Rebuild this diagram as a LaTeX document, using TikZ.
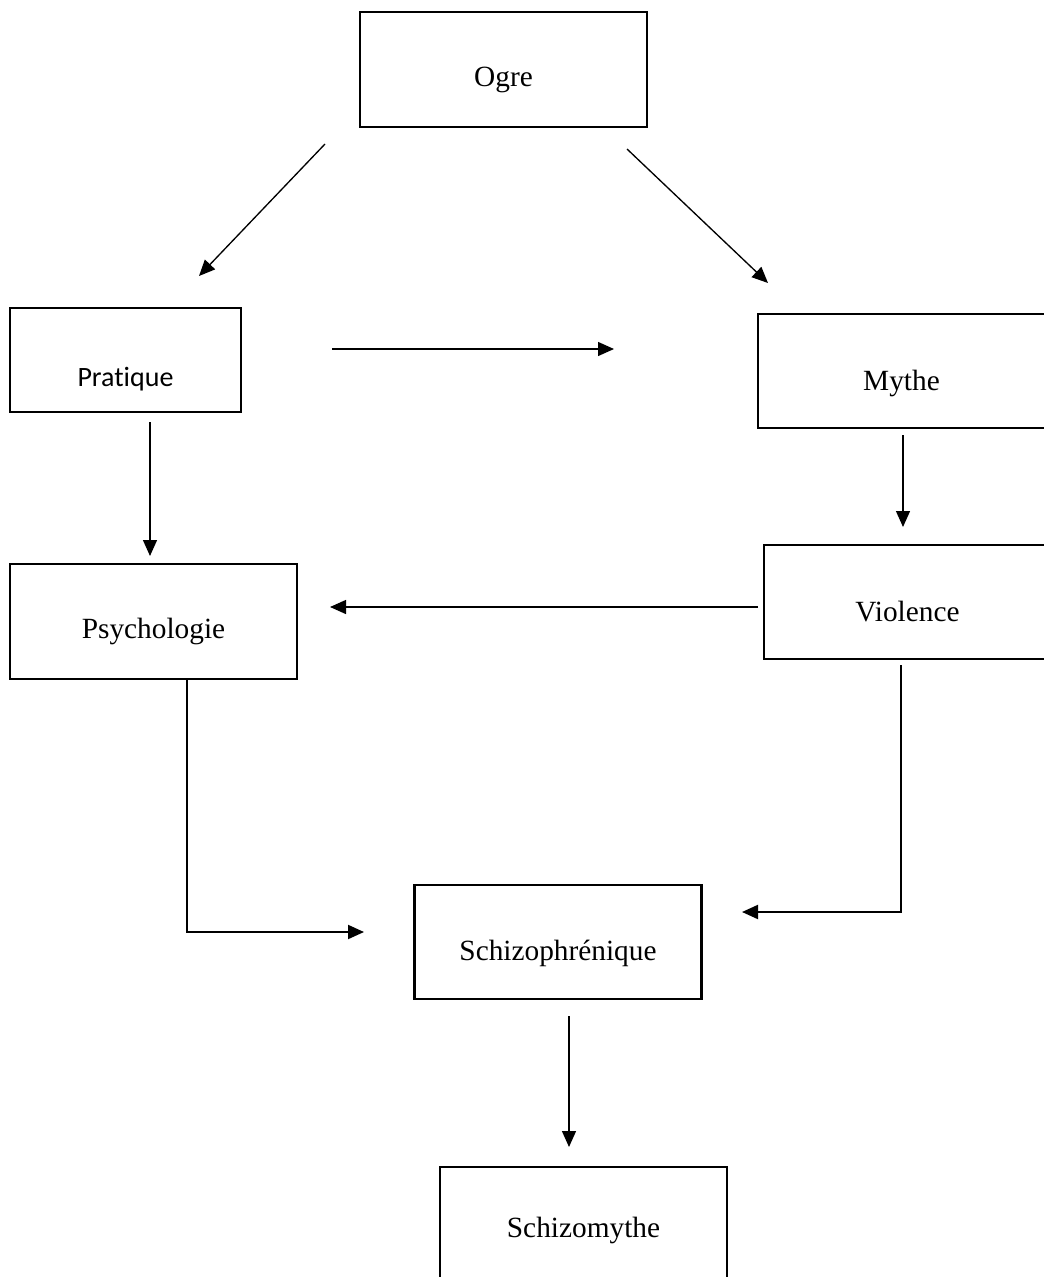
\documentclass[tikz,border=0pt]{standalone}
\usepackage{fontspec}
\setmainfont{Liberation Serif}
\newfontfamily\calibri[Ligatures=NoCommon]{Carlito}
\usetikzlibrary{arrows.meta,positioning}

\begin{document}
\begin{tikzpicture}[x=0.75pt,y=-0.75pt,
	box/.style={draw,line width=2pt,minimum width=215.25pt,minimum height=86.25pt,
		text depth=0pt,font=\fontsize{22}{26}\selectfont},
	arr/.style={line width=1pt,-{Triangle[length=12pt,width=10.5pt]}},
	elbow/.style={arr,line width=1.5pt}]

	\useasboundingbox (0,0) rectangle (1044,1277);

	\node[box,text height=26.25pt] (ogre) at (503.5,69.5) {Ogre};
	\node[box,minimum width=173.25pt,minimum height=78pt,text height=39pt,
		font=\calibri\fontsize{21}{25}\selectfont] (pratique) at (125.5,360) {Pratique};
	\node[box,minimum height=85.5pt,text height=28.5pt] (mythe) at (901.5,371) {Mythe};
	\node[box,text height=24.75pt] (psycho) at (153.5,621.5) {Psychologie};
	\node[box,minimum height=85.5pt,text height=28.5pt] (violence) at (907.5,602) {Violence};
	\node[box,minimum height=85.5pt,text height=27pt] (schizo) at (558,942) {Schizophrénique};
	\node[box,text height=18.75pt] (schizomythe) at (583.5,1224.5) {Schizomythe};

	\coordinate (ogre-l) at (325,144);
	\coordinate (pratique-t) at (199,276);
	\coordinate (ogre-r) at (627,149);
	\coordinate (mythe-t) at (768,283);
	\coordinate (pratique-r) at (332,349);
	\coordinate (mythe-l) at (614,349);
	\coordinate (pratique-b) at (150,422);
	\coordinate (psycho-t) at (150,556);
	\coordinate (mythe-b) at (903,435);
	\coordinate (violence-t) at (903,527);
	\coordinate (violence-l) at (758,607);
	\coordinate (psycho-r) at (330,607);
	\coordinate (psycho-b) at (187,679);
	\coordinate (schizo-l) at (364,932);
	\coordinate (violence-b) at (901,665);
	\coordinate (schizo-r) at (742,912);
	\coordinate (schizo-b) at (569,1016);
	\coordinate (schizomythe-t) at (569,1147);

	\draw[arr] (ogre-l) -- (pratique-t);
	\draw[arr] (ogre-r) -- (mythe-t);
	\draw[arr] (pratique-r) -- (mythe-l);
	\draw[arr] (pratique-b) -- (psycho-t);
	\draw[arr] (mythe-b) -- (violence-t);
	\draw[arr] (violence-l) -- (psycho-r);
	\draw[elbow] (psycho-b) |- (schizo-l);
	\draw[elbow] (violence-b) |- (schizo-r);
	\draw[arr] (schizo-b) -- (schizomythe-t);

\end{tikzpicture}
\end{document}
